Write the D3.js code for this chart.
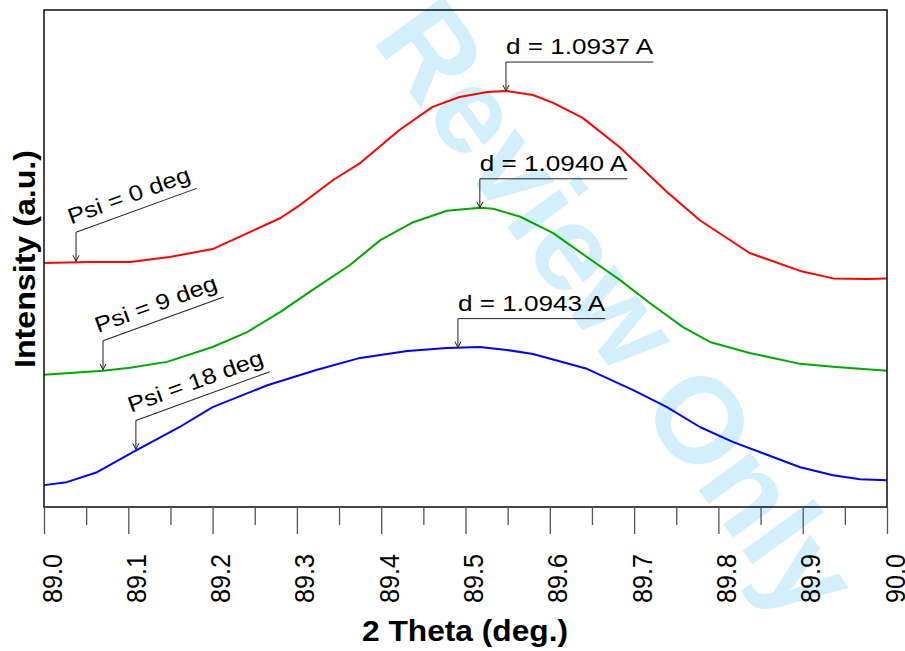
<!DOCTYPE html>
<html>
<head>
<meta charset="utf-8">
<script src="https://cdn.jsdelivr.net/npm/d3@7"></script>
<style>
  html, body { margin: 0; padding: 0; background: #fff; }
  svg { display: block; font-family: "Liberation Sans", Arial, sans-serif; }
</style>
</head>
<body>
<svg id="chart" width="905" height="651"></svg>
<script>
// 2-theta scans around the (hkl) peak at three tilt angles (psi)
const thetaPsi0 = [89.000, 89.055, 89.102, 89.149, 89.200, 89.244, 89.280, 89.304, 89.343, 89.375, 89.422, 89.461, 89.493, 89.526, 89.549, 89.580, 89.604, 89.639, 89.683, 89.739, 89.778, 89.837, 89.897, 89.936, 89.976, 90.000];
const intensityPsi0 = [49.1, 49.3, 49.3, 50.3, 51.9, 55.3, 58.1, 60.8, 65.8, 69.2, 75.9, 80.5, 82.5, 83.5, 83.7, 82.9, 81.3, 78.3, 72.4, 63.4, 57.7, 51.1, 47.5, 46.0, 45.9, 46.0];

const thetaPsi9 = [89.000, 89.070, 89.102, 89.146, 89.200, 89.241, 89.280, 89.324, 89.363, 89.399, 89.438, 89.478, 89.517, 89.533, 89.565, 89.604, 89.644, 89.683, 89.719, 89.758, 89.790, 89.837, 89.897, 89.936, 90.000];
const intensityPsi9 = [26.6, 27.4, 28.0, 29.2, 32.2, 35.2, 39.2, 44.3, 48.7, 53.7, 57.3, 59.6, 60.2, 60.0, 58.4, 55.1, 50.3, 45.7, 41.0, 36.2, 33.2, 31.0, 28.8, 28.2, 27.4];

const thetaPsi18 = [89.000, 89.027, 89.063, 89.106, 89.161, 89.200, 89.265, 89.324, 89.375, 89.431, 89.478, 89.517, 89.549, 89.580, 89.644, 89.699, 89.739, 89.778, 89.817, 89.897, 89.936, 89.968, 90.000];
const intensityPsi18 = [4.4, 5.0, 7.0, 11.1, 16.1, 20.1, 24.5, 27.6, 30.0, 31.4, 32.0, 32.2, 31.6, 30.8, 27.8, 23.5, 20.1, 16.1, 13.1, 8.0, 6.4, 5.6, 5.4];

const seriesColors = ["#ff0000", "#00a800", "#0000ff"];

// peak position callouts (d-spacing) and tilt labels
const peakLabels = ["d = 1.0937 A", "d = 1.0940 A", "d = 1.0943 A"];
const peakTheta = [89.548, 89.517, 89.491];
const psiLabels = ["Psi = 0 deg", "Psi = 9 deg", "Psi = 18 deg"];
const psiTheta = [89.038, 89.070, 89.109];

const xTickValues = [89.0, 89.1, 89.2, 89.3, 89.4, 89.5, 89.6, 89.7, 89.8, 89.9, 90.0];
const xTickLabels = ["89.0", "89.1", "89.2", "89.3", "89.4", "89.5", "89.6", "89.7", "89.8", "89.9", "90.0"];
const xMinorTicks = [89.05, 89.15, 89.25, 89.35, 89.45, 89.55, 89.65, 89.75, 89.85, 89.95];

const xTitle = "2 Theta (deg.)";
const yTitle = "Intensity (a.u.)";
const watermark = "Review Only";

const series = [
  { theta: thetaPsi0, intensity: intensityPsi0 },
  { theta: thetaPsi9, intensity: intensityPsi9 },
  { theta: thetaPsi18, intensity: intensityPsi18 }
].map((s, i) => ({
  color: seriesColors[i],
  points: s.theta.map((t, j) => ({ x: t, y: s.intensity[j] }))
}));

const svg = d3.select("#chart");
const plot = { left: 44, right: 887, top: 10, bottom: 507 };

const x = d3.scaleLinear().domain([89.0, 90.0]).range([plot.left, plot.right]);
const y = d3.scaleLinear().domain([0, 100]).range([plot.bottom, plot.top]);

// watermark sits behind everything
svg.append("text")
  .attr("transform", "translate(618,308) rotate(54)")
  .attr("text-anchor", "middle")
  .attr("dominant-baseline", "central")
  .attr("font-weight", "bold")
  .attr("font-size", 122)
  .attr("fill", "#d3effc")
  .text(watermark);

// curves
const line = d3.line().x(d => x(d.x)).y(d => y(d.y));
svg.append("g").selectAll("path")
  .data(series)
  .join("path")
  .attr("d", d => line(d.points))
  .attr("fill", "none")
  .attr("stroke", d => d.color)
  .attr("stroke-width", 2)
  .attr("stroke-linejoin", "round");

// frame
svg.append("rect")
  .attr("x", plot.left).attr("y", plot.top)
  .attr("width", plot.right - plot.left).attr("height", plot.bottom - plot.top)
  .attr("fill", "none").attr("stroke", "#1a1a1a").attr("stroke-width", 1.6);

// x axis: major ticks with labels, minor ticks between
const xAxis = d3.axisBottom(x)
  .tickValues(xTickValues)
  .tickSize(27)
  .tickFormat((d, i) => xTickLabels[i]);
const gx = svg.append("g").attr("transform", `translate(0,${plot.bottom})`).call(xAxis);
gx.select(".domain").remove();
gx.selectAll(".tick line").attr("stroke", "#555").attr("stroke-width", 1.3);
gx.selectAll(".tick text")
  .attr("transform", "translate(17,47) rotate(-90)")
  .attr("x", 0).attr("y", 0).attr("dy", 0)
  .attr("text-anchor", "end")
  .attr("font-size", 28)
  .attr("font-family", "'Liberation Sans', Arial, sans-serif")
  .attr("fill", "#000")
  .attr("textLength", 49)
  .attr("lengthAdjust", "spacingAndGlyphs");

const xMinor = d3.axisBottom(x).tickValues(xMinorTicks).tickSize(18).tickFormat("");
const gxm = svg.append("g").attr("transform", `translate(0,${plot.bottom})`).call(xMinor);
gxm.select(".domain").remove();
gxm.selectAll(".tick line").attr("stroke", "#555").attr("stroke-width", 1.3);

// axis titles
svg.append("text")
  .attr("x", 465).attr("y", 641)
  .attr("text-anchor", "middle")
  .attr("font-weight", "bold").attr("font-size", 29)
  .attr("textLength", 206).attr("lengthAdjust", "spacingAndGlyphs")
  .text(xTitle);

svg.append("text")
  .attr("transform", "translate(35,259) rotate(-90)")
  .attr("text-anchor", "middle")
  .attr("font-weight", "bold").attr("font-size", 29)
  .attr("textLength", 218).attr("lengthAdjust", "spacingAndGlyphs")
  .text(yTitle);

// value of a series at a given 2-theta (linear between samples)
function valueAt(points, t) {
  const i = d3.bisector(d => d.x).right(points, t);
  if (i <= 0) return points[0].y;
  if (i >= points.length) return points[points.length - 1].y;
  const a = points[i - 1], b = points[i];
  return a.y + (b.y - a.y) * (t - a.x) / (b.x - a.x);
}

const STRETCH = 1.16;
const leader = 29;
const annot = svg.append("g").attr("stroke-linecap", "butt");

function arrowHead(g, px, py) {
  g.append("path")
    .attr("d", `M${px - 3},${py - 6}L${px},${py}L${px + 3},${py - 6}`)
    .attr("fill", "none").attr("stroke", "#222").attr("stroke-width", 1);
}

// d-spacing callouts at each peak
peakLabels.forEach((label, i) => {
  const px = x(peakTheta[i]);
  const tipY = y(valueAt(series[i].points, peakTheta[i]));
  const topY = tipY - leader;
  const g = annot.append("g");
  const t = g.append("text")
    .attr("x", px).attr("y", topY - 8)
    .attr("font-size", 22.5).attr("fill", "#000")
    .text(label);
  const w = t.node().getComputedTextLength() * STRETCH;
  t.attr("textLength", w).attr("lengthAdjust", "spacingAndGlyphs");
  g.append("path")
    .attr("d", `M${px},${tipY}V${topY}H${px + w}`)
    .attr("fill", "none").attr("stroke", "#222").attr("stroke-width", 1);
  arrowHead(g, px, tipY);
});

// tilt labels written along a slanted leader
psiLabels.forEach((label, i) => {
  const px = x(psiTheta[i]);
  const tipY = y(valueAt(series[i].points, psiTheta[i])) - 1;
  const topY = tipY - leader;
  const g = annot.append("g");
  g.append("line")
    .attr("x1", px).attr("x2", px).attr("y1", topY).attr("y2", tipY)
    .attr("stroke", "#222").attr("stroke-width", 1);
  arrowHead(g, px, tipY);
  const slant = g.append("g").attr("transform", `translate(${px},${topY}) rotate(-20)`);
  const t = slant.append("text")
    .attr("x", -2).attr("y", -9)
    .attr("font-size", 22).attr("fill", "#000")
    .text(label);
  const w = t.node().getComputedTextLength() * STRETCH;
  t.attr("textLength", w).attr("lengthAdjust", "spacingAndGlyphs");
  slant.append("line")
    .attr("x1", 0).attr("y1", 0).attr("x2", w).attr("y2", 0)
    .attr("stroke", "#222").attr("stroke-width", 1);
});
</script>
</body>
</html>
